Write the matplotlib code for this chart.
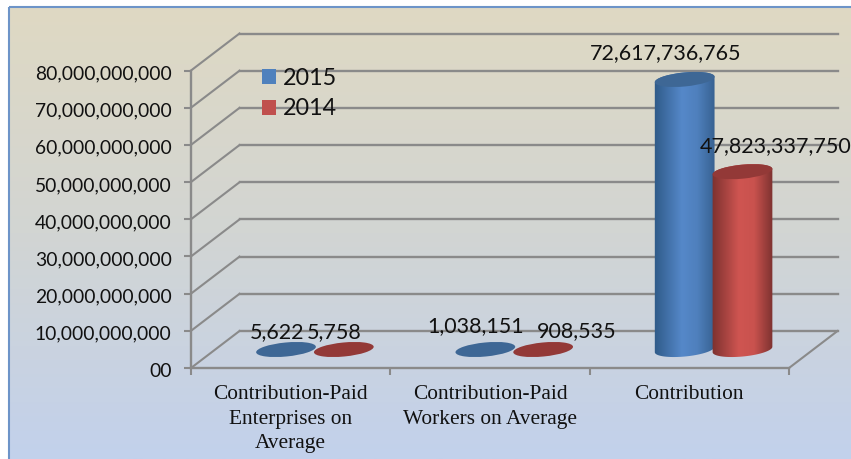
import matplotlib.pyplot as plt
import numpy as np
from matplotlib.colors import LinearSegmentedColormap
from matplotlib.patches import Ellipse, PathPatch, Patch, Rectangle
from matplotlib.path import Path
from matplotlib.transforms import Affine2D, IdentityTransform

categories = ['Contribution-Paid\nEnterprises on\nAverage',
              'Contribution-Paid\nWorkers on Average',
              'Contribution']
values_2015 = [5622, 1038151, 72617736765]
values_2014 = [5758, 908535, 47823337750]
y_ticks = [0, 10000000000, 20000000000, 30000000000, 40000000000,
           50000000000, 60000000000, 70000000000, 80000000000]

W, H = 851, 459
DEPTH_X, DEPTH_Y = 48.5, 37.0
BAR_W = 0.29
TILT = np.radians(5.5)
RX, RY = 30.0, 7.0
GREY = '#8a8a8a'

fig = plt.figure(figsize=(W / 100, H / 100), dpi=100, facecolor='white')

# background panel with the vertical gradient and blue frame
bg = fig.add_axes([0, 0, 1, 1], zorder=0)
bg.set_xlim(0, W)
bg.set_ylim(H, 0)
bg.axis('off')
bg_cmap = LinearSegmentedColormap.from_list('bg', ['#dfd9c3', '#d2d5d3', '#c2d1ec'])
bg.imshow(np.linspace(0, 1, 256).reshape(-1, 1), cmap=bg_cmap, aspect='auto',
          extent=[9, W, H, 7])
bg.add_patch(Rectangle((9, 7), W, H, fill=False, ec='#6d94c8', lw=1.5))

ax = fig.add_axes([191 / W, (H - 368) / H, 598 / W, 297.5 / H], zorder=1)
ax.patch.set_alpha(0)
ax.set_xlim(0, 3)
ax.set_ylim(0, 80000000000)
ax.autoscale(False)

back = ax.transData + Affine2D().translate(DEPTH_X, DEPTH_Y)
mid = ax.transData + Affine2D().translate(DEPTH_X / 2, DEPTH_Y / 2)

# back wall and side wall lines
for v in y_ticks:
    ax.plot([0, 3], [v, v], color=GREY, lw=1.7, transform=back, clip_on=False, zorder=1)
    x0, y0 = ax.transData.transform((0, v))
    x1, y1 = back.transform((0, v))
    ax.plot([x0, x1], [y0, y1], color=GREY, lw=1.5, transform=IdentityTransform(),
            clip_on=False, zorder=1)
x0, y0 = ax.transData.transform((3, 0))
x1, y1 = back.transform((3, 0))
ax.plot([x0, x1], [y0, y1], color=GREY, lw=1.5, transform=IdentityTransform(),
        clip_on=False, zorder=1)

for side in ['top', 'right']:
    ax.spines[side].set_visible(False)
for side in ['left', 'bottom']:
    ax.spines[side].set_color(GREY)
    ax.spines[side].set_linewidth(1.7)

ax.set_yticks(y_ticks)
ax.set_yticklabels(['00'] + [f'{v:,}' for v in y_ticks[1:]], family='Lato', fontsize=13.9,
                   color='#111111')
ax.set_xticks([0, 1, 2, 3])
ax.set_xticklabels([])
ax.tick_params(axis='both', color=GREY, width=1.5, length=5)
ax.tick_params(axis='y', pad=9)
for lab in ax.get_yticklabels():
    lab.set_transform(lab.get_transform() + Affine2D().translate(0, -2))


def ellipse_points(cx, cy, start, stop):
    t = np.linspace(start, stop, 40)
    x = cx + RX * np.cos(t) * np.cos(TILT) - RY * np.sin(t) * np.sin(TILT)
    y = cy + RX * np.cos(t) * np.sin(TILT) + RY * np.sin(t) * np.cos(TILT)
    return np.column_stack([x, y])


def cylinder(x, value, stops, top_color):
    bx, by = mid.transform((x, 0))
    tx, ty = mid.transform((x, value))
    if ty - by > 3:
        bottom = ellipse_points(bx, by, np.pi, 2 * np.pi)
        top = ellipse_points(tx, ty, 0, np.pi)
        pts = np.vstack([bottom, top, bottom[:1]])
        clip = PathPatch(Path(pts), transform=IdentityTransform(), fc='none', ec='none')
        ax.add_patch(clip)
        cmap = LinearSegmentedColormap.from_list('cyl', stops)
        im = ax.imshow(np.linspace(0, 1, 128).reshape(1, -1), cmap=cmap, aspect='auto',
                       extent=[bx - RX - 1, bx + RX + 1, by - RY - 5, ty + RY + 5],
                       transform=IdentityTransform(), zorder=3, clip_on=True)
        im.set_clip_path(clip)
    ax.add_patch(Ellipse((tx, ty), 2 * RX, 2 * RY, angle=np.degrees(TILT), fc=top_color,
                         ec='none', transform=IdentityTransform(), zorder=4, clip_on=False))


blue_stops = [(0, '#2f5a88'), (0.45, '#5588c9'), (0.7, '#4f80bd'), (1, '#36608f')]
red_stops = [(0, '#7a302e'), (0.45, '#cf5551'), (0.7, '#c9524e'), (1, '#7d3230')]

for i in range(3):
    cylinder(i + 0.5 - BAR_W / 2, values_2015[i], blue_stops, '#3e6795')
    cylinder(i + 0.5 + BAR_W / 2, values_2014[i], red_stops, '#933937')

# value labels sit off their bars by hand, as in the original
offsets_2015 = [(-9, 17), (-10, 23), (-19, 26)]
offsets_2014 = [(-10, 17), (34, 18), (33, 26)]
for i in range(3):
    for vals, sign, offs in [(values_2015, -1, offsets_2015), (values_2014, 1, offsets_2014)]:
        px, py = mid.transform((i + 0.5 + sign * BAR_W / 2, vals[i]))
        ax.annotate(f'{vals[i]:,}', (px, py), xycoords=IdentityTransform(),
                    xytext=(offs[i][0], offs[i][1]), textcoords=('offset pixels'),
                    ha='center', va='center', family='Lato', fontsize=15.5,
                    color='#111111', zorder=6, annotation_clip=False)

# category labels
for i, name in enumerate(categories):
    ax.annotate(name, (i + 0.5, 0), xycoords='data', xytext=(0, -17),
                textcoords='offset pixels', ha='center', va='top', family='Liberation Serif',
                fontsize=15.4, color='#111111', linespacing=1.4, annotation_clip=False)

handles = [Patch(fc='#4f81bd', label='2015'), Patch(fc='#c0504d', label='2014')]
ax.legend(handles=handles, loc='upper left', bbox_to_anchor=(0.118, 1.008), frameon=False,
          prop={'family': 'Lato', 'size': 16.8}, handlelength=0.62, handleheight=0.62,
          handletextpad=0.3, labelspacing=0.4, borderpad=0, borderaxespad=0,
          labelcolor='#111111').set_zorder(7)

plt.savefig('out.png', dpi=100)
plt.close()
